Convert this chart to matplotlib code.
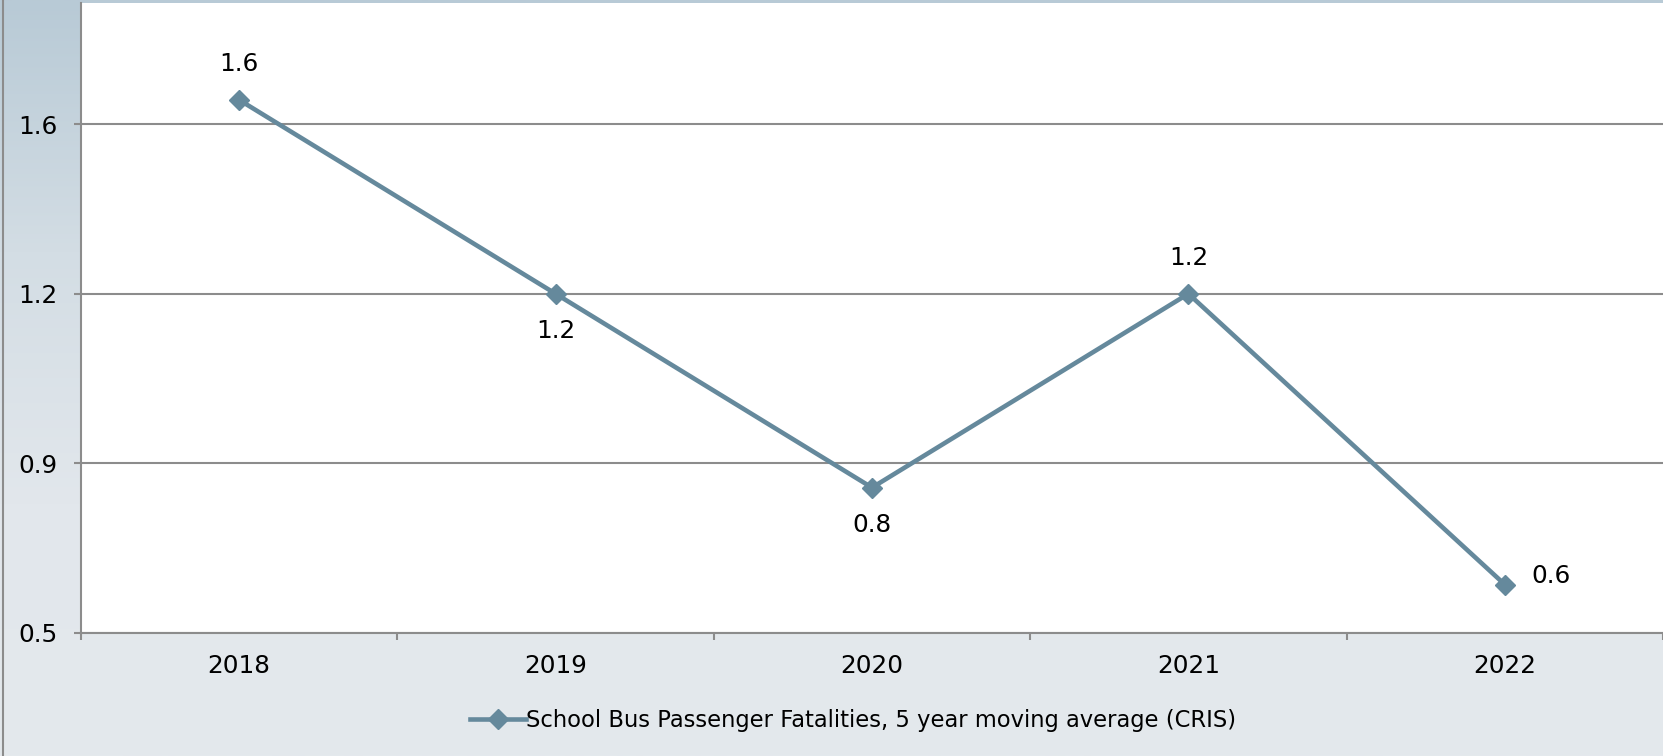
import numpy as np
import matplotlib.pyplot as plt
from matplotlib.colors import LinearSegmentedColormap
from matplotlib.lines import Line2D

# данные графика
years = ['2018', '2019', '2020', '2021', '2022']
values = [1.6, 1.2, 0.8, 1.2, 0.6]
value_labels = ['1.6', '1.2', '0.8', '1.2', '0.6']
y_ticks = [0.5, 0.85, 1.2, 1.55]
y_tick_labels = ['0.5', '0.9', '1.2', '1.6']
series_name = 'School Bus Passenger Fatalities, 5 year moving average (CRIS)'

W, H = 1663, 756
plt.rcParams['font.family'] = ['DejaVu Sans']
fig = plt.figure(figsize=(W / 100, H / 100), dpi=100)

# фон с градиентом
bg = fig.add_axes([0, 0, 1, 1], zorder=-10)
cmap = LinearSegmentedColormap.from_list('bg', ['#b8cad6', '#d3dde4', '#e2e7ec', '#e4e9ed'])
bg.imshow(np.linspace(0, 1, 256).reshape(-1, 1), aspect='auto', cmap=cmap,
          extent=[0, 1, 0, 1], origin='upper')
bg.set_axis_off()
fig.add_artist(Line2D([2.5 / W, 2.5 / W], [0, 1], color='#8c8c8c', lw=1.5))

ax = fig.add_axes([81 / W, 1 - 633 / H, 1 - 81 / W, (633 - 3) / H])
ax.set_facecolor('white')
x = np.arange(len(years))
line_color = '#65899c'
ax.plot(x, values, color=line_color, lw=3.3, marker='D', ms=10, label=series_name, zorder=3)

ax.set_xlim(-0.5, len(years) - 0.5)
ax.set_ylim(0.5, 1.8)
ax.set_yticks(y_ticks, y_tick_labels)
ax.set_xticks(x, years)
ax.set_xticks(np.arange(-0.5, len(years), 1), minor=True)

grey = '#8c8c8c'
fs = 17.8
ax.tick_params(axis='x', which='major', length=0, pad=15, labelsize=fs)
ax.tick_params(axis='x', which='minor', length=5, width=1.5, color=grey, direction='out')
ax.tick_params(axis='y', length=5, width=1.5, color=grey, pad=12, labelsize=fs)
ax.yaxis.grid(True, color=grey, lw=1.5)
ax.set_axisbelow(True)
for s in ['top', 'right']:
    ax.spines[s].set_visible(False)
for s in ['left', 'bottom']:
    ax.spines[s].set_color(grey)
    ax.spines[s].set_linewidth(1.5)

# подписи значений
offsets = [(0, 26, 'center'), (0, -27, 'center'), (0, -27, 'center'),
           (0, 26, 'center'), (19, 6.5, 'left')]
for xi, v, t, (dx, dy, ha) in zip(x, values, value_labels, offsets):
    ax.annotate(t, (xi, v), xytext=(dx, dy), textcoords='offset points',
                ha=ha, va='center', fontsize=fs)

fig.legend(loc='center', bbox_to_anchor=(853 / W, 1 - 720 / H), frameon=False,
           handlelength=2.5, handletextpad=0, fontsize=16.3)

plt.savefig('out.png', dpi=100)
